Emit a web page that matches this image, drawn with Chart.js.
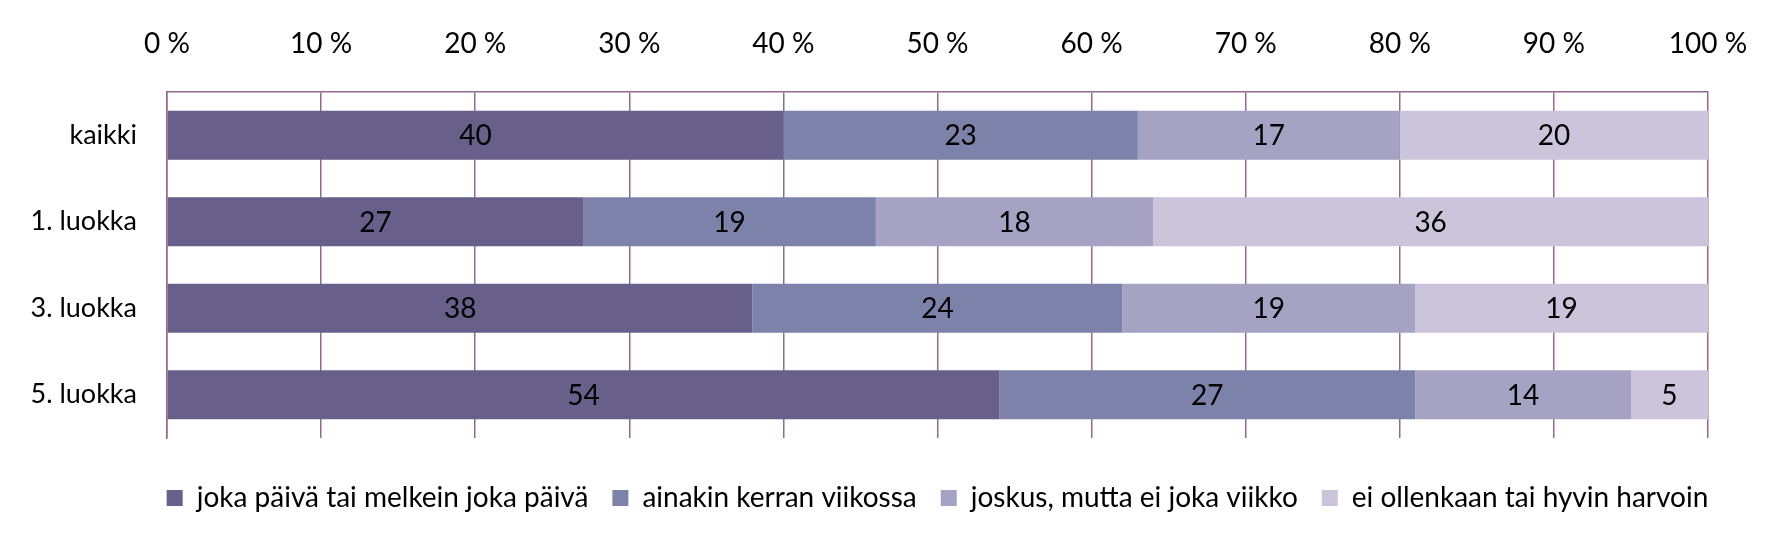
<!DOCTYPE html>
<html>
<head>
<meta charset="utf-8">
<script src="https://cdn.jsdelivr.net/npm/chart.js@4.4.1/dist/chart.umd.min.js"></script>
<style>
html,body{margin:0;padding:0;background:#fff;}
#wrap{width:1772px;height:539px;}
</style>
</head>
<body>
<div id="wrap"><canvas id="c" width="1772" height="539"></canvas></div>
<script>
const categories = ["kaikki", "1. luokka", "3. luokka", "5. luokka"];
const seriesNames = ["joka päivä tai melkein joka päivä", "ainakin kerran viikossa", "joskus, mutta ei joka viikko", "ei ollenkaan tai hyvin harvoin"];
const daily = [40, 27, 38, 54];
const weekly = [23, 19, 24, 27];
const sometimes = [17, 18, 19, 14];
const rarely = [20, 36, 19, 5];
const tickValues = [0, 10, 20, 30, 40, 50, 60, 70, 80, 90, 100];
const tickLabels = tickValues.map(v => v + " %");

const colors = ["#68608a", "#7d82aa", "#a6a2c4", "#cbc4da"];
const gridColor = "#8f6a8f";
const FONT = "Lato";

const valueLabels = {
  id: "valueLabels",
  afterDatasetsDraw(chart) {
    const ctx = chart.ctx;
    ctx.save();
    ctx.font = "28px " + FONT;
    ctx.fillStyle = "#000";
    ctx.textAlign = "center";
    ctx.textBaseline = "middle";
    chart.data.datasets.forEach((ds, i) => {
      const meta = chart.getDatasetMeta(i);
      meta.data.forEach((el, j) => {
        const p = el.getCenterPoint();
        ctx.fillText(String(ds.data[j]), p.x, p.y + 1);
      });
    });
    ctx.restore();
  }
};

// center the legend under the plot area (as in the original)
const legendShift = {
  id: "legendShift",
  beforeDraw(chart) {
    const lg = chart.legend, ca = chart.chartArea;
    if (!lg || !ca) return;
    const shift = (ca.left + ca.right) / 2 - (lg.left + lg.right) / 2;
    lg.left += shift;
    lg.right += shift;
  }
};

const dataSets = [daily, weekly, sometimes, rarely].map((d, i) => ({
  label: seriesNames[i],
  data: d,
  backgroundColor: colors[i],
  borderWidth: 0,
  barPercentage: 1,
  categoryPercentage: 0.565
}));

new Chart(document.getElementById("c"), {
  type: "bar",
  data: { labels: categories, datasets: dataSets },
  plugins: [valueLabels, legendShift],
  options: {
    indexAxis: "y",
    responsive: false,
    animation: false,
    devicePixelRatio: 1,
    layout: { padding: { left: 0, right: 64, top: 0, bottom: 17 } },
    scales: {
      x: {
        position: "top",
        stacked: true,
        min: 0,
        max: 100,
        afterBuildTicks(scale) { scale.ticks = tickValues.map(v => ({ value: v })); },
        afterFit(scale) { scale.height = 92; scale.paddingLeft = 0; scale.paddingRight = 0; },
        ticks: {
          callback: (v, i) => tickLabels[i],
          color: "#000",
          font: { family: FONT, size: 28 },
          padding: 31,
          maxRotation: 0
        },
        grid: { color: gridColor, lineWidth: 1.5, drawTicks: false },
        border: { display: true, color: gridColor, width: 1.5 }
      },
      y: {
        stacked: true,
        afterFit(scale) { scale.width = 167; },
        ticks: {
          color: "#000",
          font: { family: FONT, size: 27 },
          padding: 30
        },
        grid: { display: false, drawTicks: false },
        border: { display: true, color: gridColor, width: 1.5 }
      }
    },
    plugins: {
      legend: {
        position: "bottom",
        title: { display: true, text: "", padding: 0, font: { family: FONT, size: 22, lineHeight: 1 } },
        labels: {
          color: "#000",
          font: { family: FONT, size: 28 },
          boxWidth: 16,
          boxHeight: 16,
          padding: 24
        }
      },
      tooltip: { enabled: false }
    }
  }
});
</script>
</body>
</html>
